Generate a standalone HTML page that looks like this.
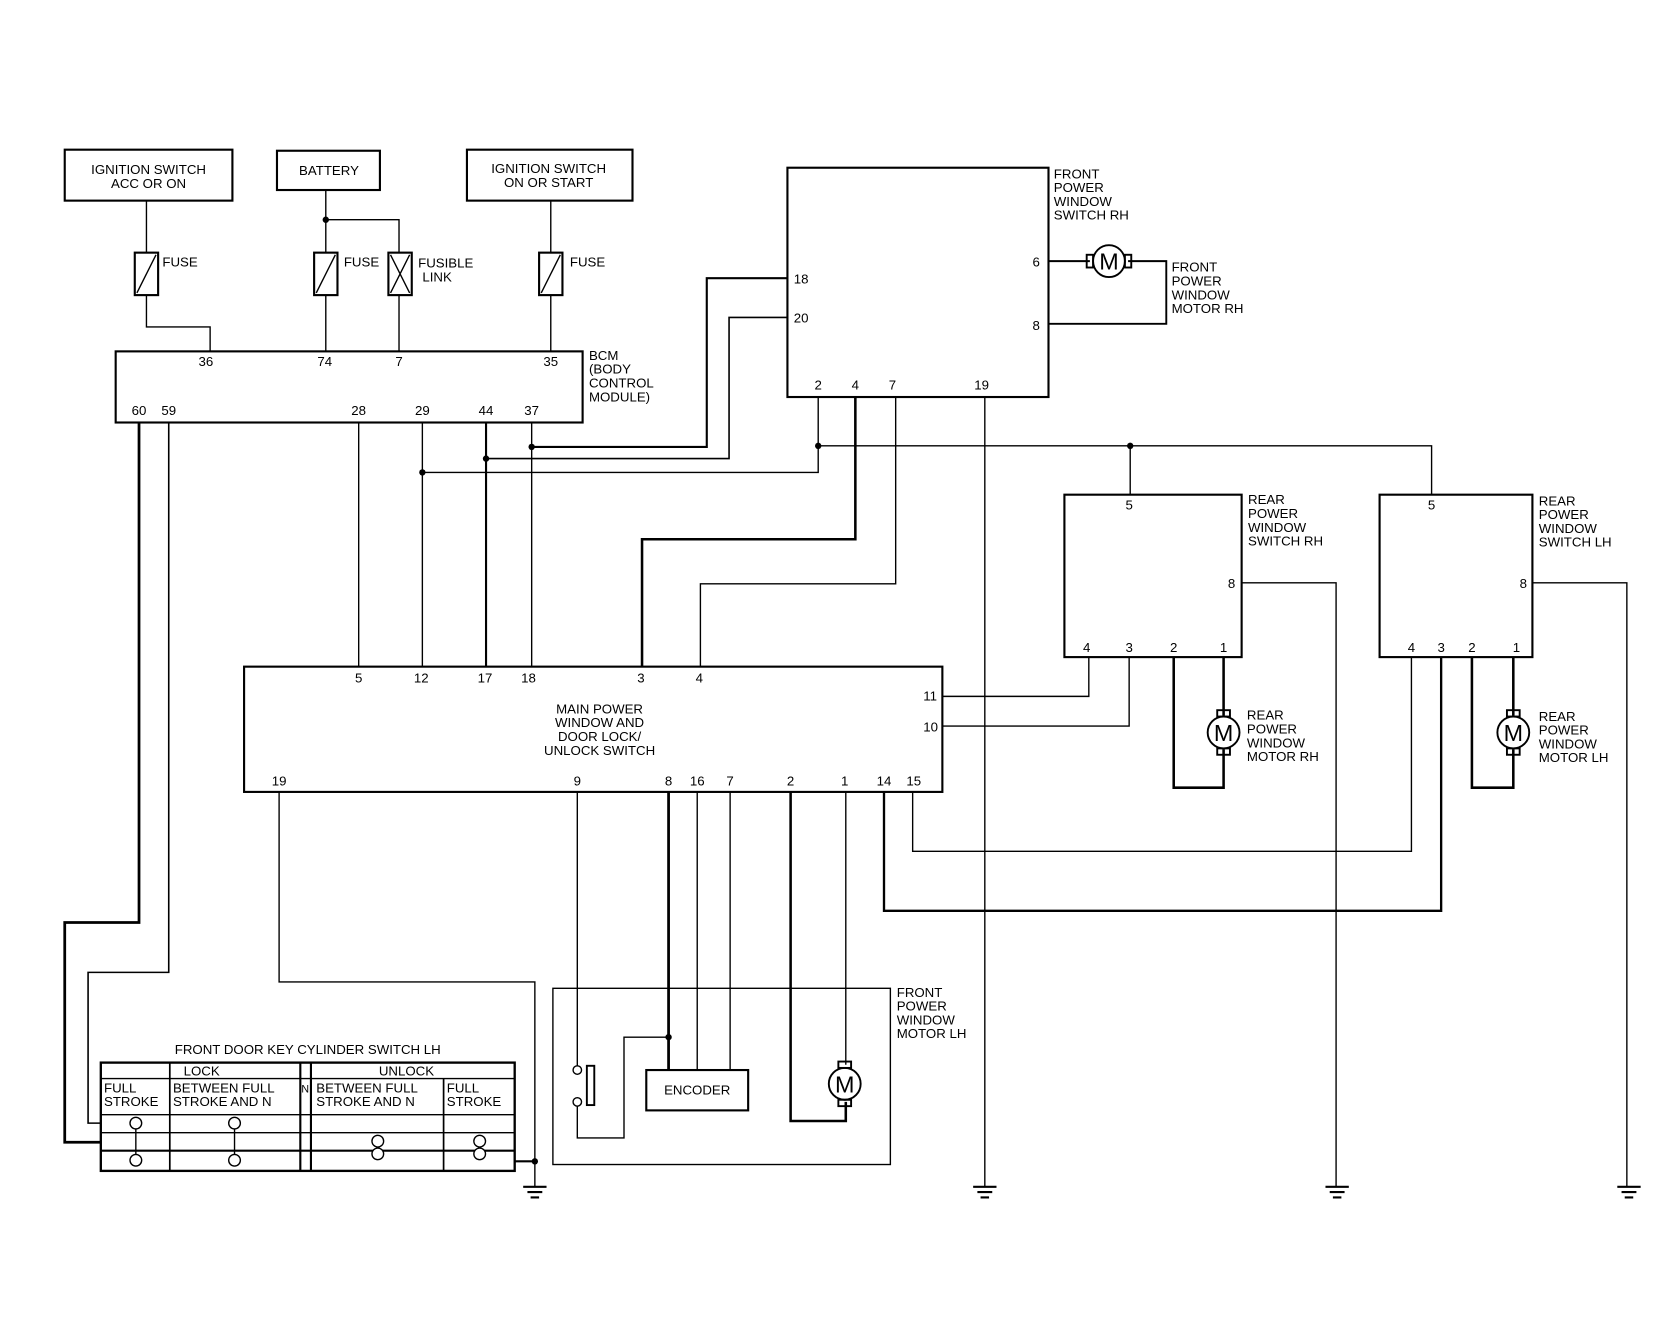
<!DOCTYPE html>
<html><head><meta charset="utf-8"><style>
html,body{margin:0;padding:0;background:#fff;}
svg{display:block}
text{font-family:"Liberation Sans",Arial,sans-serif;font-size:12.5px;fill:#000}
</style></head><body>
<svg width="1664" height="1328" viewBox="0 0 1568 1251" preserveAspectRatio="none" xmlns="http://www.w3.org/2000/svg">
<g fill="none" stroke="#000" stroke-width="1.3">
<rect x="61" y="141" width="158" height="48" stroke-width="2"/>
<rect x="261" y="142" width="97" height="37" stroke-width="2"/>
<rect x="440" y="141" width="156" height="48" stroke-width="2"/>
<path d="M138 189V238M138 278V308H198V331"/>
<rect x="127" y="238" width="22" height="40" stroke-width="2"/><path d="M129 276L147 240"/>
<path d="M307 179V238M307 278V331M307 207H376V238M376 278V331"/>
<rect x="296" y="238" width="22" height="40" stroke-width="2"/><path d="M298 276L316 240"/>
<rect x="366" y="238" width="22" height="40" stroke-width="2"/><path d="M368 240L386 276M368 276L386 240"/>
<path d="M519 189V238M519 278V331"/>
<rect x="508" y="238" width="22" height="40" stroke-width="2"/><path d="M510 276L528 240"/>
<rect x="109" y="331" width="440" height="67" stroke-width="2"/>
<rect x="742" y="158" width="246" height="216" stroke-width="2"/>
<path d="M988 246H1027M1063 246H1099V305H988" stroke-width="1.8"/>
<path d="M131 398V869H61V1076H95" stroke-width="2.6"/>
<path d="M159 398V916H83V1058H95" stroke-width="1.5"/>
<path d="M338 398V628"/>
<path d="M398 398V628"/>
<path d="M458 398V628" stroke-width="2"/>
<path d="M501 398V628"/>
<path d="M501 421H666V262H742" stroke-width="2"/>
<path d="M458 432H687V299H742" stroke-width="1.5"/>
<path d="M398 445H771V374"/>
<path d="M771 420H1349V466M1065 420V466"/>
<path d="M806 374V508H605V628" stroke-width="2.4"/>
<path d="M844 374V550H660V628"/>
<path d="M928 374V1118"/>
<rect x="230" y="628" width="658" height="118" stroke-width="2"/>
<rect x="1003" y="466" width="167" height="153" stroke-width="2"/>
<path d="M1170 549H1259V1118"/>
<path d="M1026 619V656H888"/>
<path d="M1064 619V684H888"/>
<path d="M1106 619V742H1153V706M1153 674V619" stroke-width="2.4"/>
<rect x="1300" y="466" width="144" height="153" stroke-width="2"/>
<path d="M1444 549H1533V1118"/>
<path d="M1330 619V802H860V746"/>
<path d="M1358 619V858H833V746" stroke-width="2.2"/>
<path d="M1387 619V742H1426V706M1426 674V619" stroke-width="2.4"/>
<path d="M263 746V925H504V1118"/>
<path d="M485 1094H504" stroke-width="2"/>
<path d="M544 746V1004M544 1042V1072H588V977H630"/>
<path d="M630 746V1008" stroke-width="2.6"/>
<path d="M657 746V1008M688 746V1008"/>
<path d="M745 746V1056H797V1038" stroke-width="2.4"/>
<path d="M797 746V1003"/>
<rect x="521" y="931" width="318" height="166"/>
<rect x="553" y="1004" width="7" height="37" stroke-width="1.8"/>
<rect x="609" y="1008" width="96" height="38" stroke-width="2"/>
<rect x="95" y="1001" width="390" height="102" stroke-width="2.2"/>
<path d="M95 1016H485M95 1050H485M95 1067H485"/>
<path d="M95 1084H485" stroke-width="2"/>
<path d="M160 1001V1103M418 1016V1103" stroke-width="1.6"/>
<path d="M283 1001V1103M293 1001V1103" stroke-width="2"/>
<path d="M128 1058V1093M221 1058V1093"/>
<g fill="#fff">
<circle cx="128" cy="1058" r="5.5"/><circle cx="128" cy="1093" r="5.5"/>
<circle cx="221" cy="1058" r="5.5"/><circle cx="221" cy="1093" r="5.5"/>
<circle cx="356" cy="1075" r="5.5"/><circle cx="356" cy="1087" r="5.5"/>
<circle cx="452" cy="1075" r="5.5"/><circle cx="452" cy="1087" r="5.5"/>
<circle cx="544" cy="1008" r="4"/><circle cx="544" cy="1038" r="4"/>
</g>
<g stroke-width="2">
<path d="M917 1118H939M921 1123H935M924 1128H932"/>
<path d="M1249 1118H1271M1253 1123H1267M1256 1128H1264"/>
<path d="M1524 1118H1546M1528 1123H1542M1531 1128H1539"/>
<path d="M493 1118H515M497 1123H511M500 1128H508"/>
</g>
<g stroke-width="1.8">
<circle cx="1045" cy="246" r="15"/><rect x="1024" y="240" width="6" height="12"/><rect x="1060" y="240" width="6" height="12"/>
<circle cx="1153" cy="690" r="15"/><rect x="1147" y="669" width="12" height="6"/><rect x="1147" y="705" width="12" height="6"/>
<circle cx="1426" cy="690" r="15"/><rect x="1420" y="669" width="12" height="6"/><rect x="1420" y="705" width="12" height="6"/>
<circle cx="796" cy="1021" r="15"/><rect x="790" y="1000" width="12" height="6"/><rect x="790" y="1036" width="12" height="6"/>
</g>
</g>
<g fill="#000">
<circle cx="307" cy="207" r="3"/><circle cx="501" cy="421" r="3"/><circle cx="458" cy="432" r="3"/>
<circle cx="398" cy="445" r="3"/><circle cx="771" cy="420" r="3"/><circle cx="1065" cy="420" r="3"/>
<circle cx="630" cy="977" r="3"/><circle cx="504" cy="1094" r="3"/>
</g>
<g text-anchor="middle">
<text x="1045" y="254" style="font-size:22px">M</text>
<text x="1153" y="698" style="font-size:22px">M</text>
<text x="1426" y="698" style="font-size:22px">M</text>
<text x="796" y="1029" style="font-size:22px">M</text>
</g>
<g text-anchor="middle">
<text x="140" y="164">IGNITION SWITCH</text><text x="140" y="177">ACC OR ON</text>
<text x="310" y="165">BATTERY</text>
<text x="517" y="163">IGNITION SWITCH</text><text x="517" y="176">ON OR START</text>
<text x="194" y="345">36</text><text x="306" y="345">74</text><text x="376" y="345">7</text><text x="519" y="345">35</text>
<text x="131" y="391">60</text><text x="159" y="391">59</text><text x="338" y="391">28</text><text x="398" y="391">29</text><text x="458" y="391">44</text><text x="501" y="391">37</text>
<text x="771" y="367">2</text><text x="806" y="367">4</text><text x="841" y="367">7</text><text x="925" y="367">19</text>
<text x="338" y="643">5</text><text x="397" y="643">12</text><text x="457" y="643">17</text><text x="498" y="643">18</text><text x="604" y="643">3</text><text x="659" y="643">4</text>
<text x="565" y="672">MAIN POWER</text><text x="565" y="685">WINDOW AND</text><text x="565" y="698">DOOR LOCK/</text><text x="565" y="711">UNLOCK SWITCH</text>
<text x="263" y="740">19</text><text x="544" y="740">9</text><text x="630" y="740">8</text><text x="657" y="740">16</text><text x="688" y="740">7</text><text x="745" y="740">2</text><text x="796" y="740">1</text><text x="833" y="740">14</text><text x="861" y="740">15</text>
<text x="1064" y="480">5</text><text x="1024" y="614">4</text><text x="1064" y="614">3</text><text x="1106" y="614">2</text><text x="1153" y="614">1</text>
<text x="1349" y="480">5</text><text x="1330" y="614">4</text><text x="1358" y="614">3</text><text x="1387" y="614">2</text><text x="1429" y="614">1</text>
<text x="290" y="993">FRONT DOOR KEY CYLINDER SWITCH LH</text>
<text x="190" y="1013">LOCK</text><text x="383" y="1013">UNLOCK</text>
<text x="657" y="1031">ENCODER</text>
</g>
<text x="153" y="251">FUSE</text><text x="324" y="251">FUSE</text><text x="394" y="252">FUSIBLE</text><text x="398" y="265">LINK</text><text x="537" y="251">FUSE</text>
<text x="555" y="339">BCM</text><text x="555" y="352">(BODY</text><text x="555" y="365">CONTROL</text><text x="555" y="378">MODULE)</text>
<text x="993" y="168">FRONT</text><text x="993" y="181">POWER</text><text x="993" y="194">WINDOW</text><text x="993" y="207">SWITCH RH</text>
<text x="748" y="267">18</text><text x="748" y="304">20</text><text x="973" y="251">6</text><text x="973" y="311">8</text>
<text x="1104" y="256">FRONT</text><text x="1104" y="269">POWER</text><text x="1104" y="282">WINDOW</text><text x="1104" y="295">MOTOR RH</text>
<text x="1176" y="475">REAR</text><text x="1176" y="488">POWER</text><text x="1176" y="501">WINDOW</text><text x="1176" y="514">SWITCH RH</text>
<text x="1157" y="554">8</text>
<text x="1450" y="476">REAR</text><text x="1450" y="489">POWER</text><text x="1450" y="502">WINDOW</text><text x="1450" y="515">SWITCH LH</text>
<text x="1432" y="554">8</text>
<text x="1175" y="678">REAR</text><text x="1175" y="691">POWER</text><text x="1175" y="704">WINDOW</text><text x="1175" y="717">MOTOR RH</text>
<text x="1450" y="679">REAR</text><text x="1450" y="692">POWER</text><text x="1450" y="705">WINDOW</text><text x="1450" y="718">MOTOR LH</text>
<text x="870" y="660">11</text><text x="870" y="689">10</text>
<text x="845" y="939">FRONT</text><text x="845" y="952">POWER</text><text x="845" y="965">WINDOW</text><text x="845" y="978">MOTOR LH</text>
<text x="98" y="1029">FULL</text><text x="98" y="1042">STROKE</text>
<text x="163" y="1029">BETWEEN FULL</text><text x="163" y="1042">STROKE AND N</text>
<text x="284" y="1029" style="font-size:10px">N</text>
<text x="298" y="1029">BETWEEN FULL</text><text x="298" y="1042">STROKE AND N</text>
<text x="421" y="1029">FULL</text><text x="421" y="1042">STROKE</text>
</svg>
</body></html>
